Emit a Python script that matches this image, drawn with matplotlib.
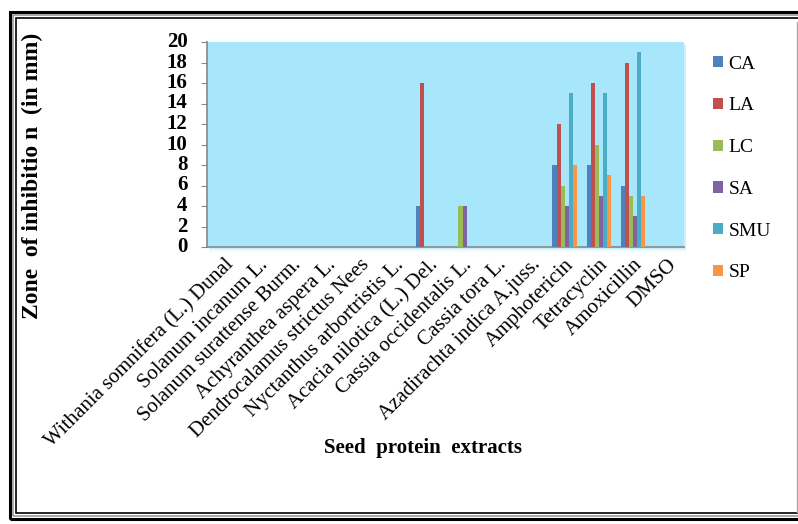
import matplotlib
matplotlib.use("Agg")
import matplotlib.pyplot as plt
import numpy as np
from matplotlib.patches import Rectangle

categories = ["Withania somnifera (L.) Dunal", "Solanum incanum L.", "Solanum surattense Burm.",
              "Achyranthea aspera L.", "Dendrocalamus strictus Nees", "Nyctanthus arbortristis L.",
              "Acacia nilotica (L.) Del.", "Cassia occidentalis L.", "Cassia tora L.",
              "Azadirachta indica A.juss.", "Amphotericin", "Tetracyclin", "Amoxicillin", "DMSO"]
series_names = ["CA", "LA", "LC", "SA", "SMU", "SP"]
CA  = [0, 0, 0, 0, 0, 0, 4, 0, 0, 0, 8, 8, 6, 0]
LA  = [0, 0, 0, 0, 0, 0, 16, 0, 0, 0, 12, 16, 18, 0]
LC  = [0, 0, 0, 0, 0, 0, 0, 4, 0, 0, 6, 10, 5, 0]
SA  = [0, 0, 0, 0, 0, 0, 0, 4, 0, 0, 4, 5, 3, 0]
SMU = [0, 0, 0, 0, 0, 0, 0, 0, 0, 0, 15, 15, 19, 0]
SP  = [0, 0, 0, 0, 0, 0, 0, 0, 0, 0, 8, 7, 5, 0]
yticks = list(range(0, 21, 2))

colors = ["#4F81BD", "#C0504D", "#9BBB59", "#8064A2", "#4BACC6", "#F79646"]
series = [CA, LA, LC, SA, SMU, SP]

plt.rcParams['font.family'] = ['Liberation Serif', 'DejaVu Serif']

fig = plt.figure(figsize=(7.98, 5.24), dpi=100)
W, H = 798, 524

# soft shadow below plot area
for k, a in [(5, 0.15), (3, 0.25), (1.5, 0.35)]:
    fig.add_artist(Rectangle((209 / W, 1 - (247 + k) / H), 477 / W, 205 / H,
                             transform=fig.transFigure, facecolor="#A8E6FC", alpha=a,
                             edgecolor='none', zorder=0))

ax = fig.add_axes([207 / W, 1 - 247 / H, 477 / W, 205 / H])
ax.set_facecolor("#A8E6FC")

x = np.arange(len(categories))
bw = 0.12
for i, (name, vals, c) in enumerate(zip(series_names, series, colors)):
    ax.bar(x + (i - 2.5) * bw, vals, width=bw, color=c, label=name, linewidth=0, zorder=3)

ax.set_xlim(-0.5, len(categories) - 0.5)
ax.set_ylim(0, 20)
ax.set_yticks(yticks)
ax.set_yticklabels([str(v) for v in yticks], fontsize=15, fontweight='bold')
ax.set_xticks(x)
ax.set_xticklabels(categories, rotation=45, ha='right', rotation_mode='anchor', fontsize=15)
ax.tick_params(axis='x', length=0, pad=6)
ax.tick_params(axis='y', length=4, color='#888888', pad=10)
for lbl in ax.get_yticklabels():
    lbl.set_verticalalignment('center')
for s in ['top', 'right']:
    ax.spines[s].set_visible(False)
for s in ['left', 'bottom']:
    ax.spines[s].set_color('#888888')
    ax.spines[s].set_linewidth(1.2)

fig.text(32 / W, 1 - 176 / H, "Zone  of inhibitio n  (in mm)", rotation=90, fontsize=17,
         fontweight='bold', ha='center', va='center')
fig.text(423 / W, 1 - 448 / H, "Seed  protein  extracts", fontsize=15, fontweight='bold',
         ha='center', va='center')

leg = fig.legend(loc='upper left', bbox_to_anchor=(705 / W, 1 - 48 / H), frameon=False,
                 fontsize=14, handlelength=0.5, handleheight=0.5, handletextpad=0.3,
                 labelspacing=1.27, borderaxespad=0)

# double border frame
def frect(x0, y0, x1, y1, lw, color):
    fig.add_artist(Rectangle((x0 / W, 1 - y1 / H), (x1 - x0) / W, (y1 - y0) / H,
                             transform=fig.transFigure, fill=False, lw=lw, edgecolor=color))
frect(10, 12, 805, 519, 2.2, "black")
frect(13, 15, 802, 516, 1.2, "#999999")
frect(16, 18, 799, 513, 1.2, "black")
fig.add_artist(plt.Line2D([796.5 / W, 796.5 / W], [1 - 22 / H, 1 - 512 / H],
                          transform=fig.transFigure, color="#aaaaaa", lw=1))

fig.savefig("out.png", dpi=100)
